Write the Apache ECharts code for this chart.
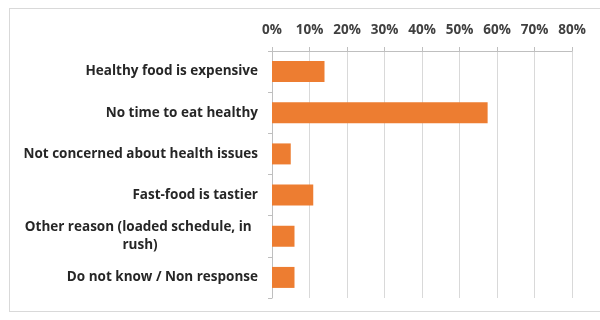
<!DOCTYPE html>
<html><head><meta charset="utf-8">
<script src="https://cdn.jsdelivr.net/npm/echarts@6/dist/echarts.min.js"></script>
<style>html,body{margin:0;padding:0;background:#fff}#c{width:600px;height:320px}
#frame{position:absolute;left:9px;top:8px;width:600px;height:304px;border:1px solid #d9d9d9;box-sizing:border-box;pointer-events:none}</style>
</head><body><div id="c"></div><div id="frame"></div>
<script>
const categories = [
  'Healthy food is expensive',
  'No time to eat healthy',
  'Not concerned about health issues',
  'Fast-food is tastier',
  'Other reason (loaded schedule, in rush)',
  'Do not know / Non response'
];
const values = [14, 57.5, 5, 11, 6, 6];
const tickMax = 80;

const labelFont = {color: '#262626', fontFamily: 'Open Sans', fontWeight: 'bold', fontSize: 13.5, lineHeight: 18};
const chart = echarts.init(document.getElementById('c'));
chart.setOption({
  animation: false,
  grid: {left: 272, right: 28, top: 51, bottom: 22, containLabel: false},
  xAxis: {
    type: 'value', position: 'top', min: 0, max: tickMax, interval: 10,
    axisLine: {show: true, lineStyle: {color: '#bfbfbf'}},
    axisTick: {show: true, length: 4, lineStyle: {color: '#bfbfbf'}},
    splitLine: {show: true, lineStyle: {color: '#d9d9d9'}},
    axisLabel: {formatter: v => v + '%', color: '#404040', fontFamily: 'Open Sans', fontWeight: 'bold', fontSize: 13.5, margin: 14}
  },
  yAxis: {
    type: 'category', inverse: true, data: categories,
    axisLine: {show: true, lineStyle: {color: '#bfbfbf'}},
    axisTick: {show: true, length: 4, lineStyle: {color: '#bfbfbf'}},
    axisLabel: Object.assign({
      margin: 14, width: 236, overflow: 'break',
      formatter: v => v.length > 34 ? '{c|' + v + '}' : v,
      rich: {c: Object.assign({align: 'center'}, labelFont)}
    }, labelFont)
  },
  series: [{
    type: 'bar', data: values, barCategoryGap: '49%',
    itemStyle: {color: '#ED7D31'}
  }]
});
</script></body></html>
